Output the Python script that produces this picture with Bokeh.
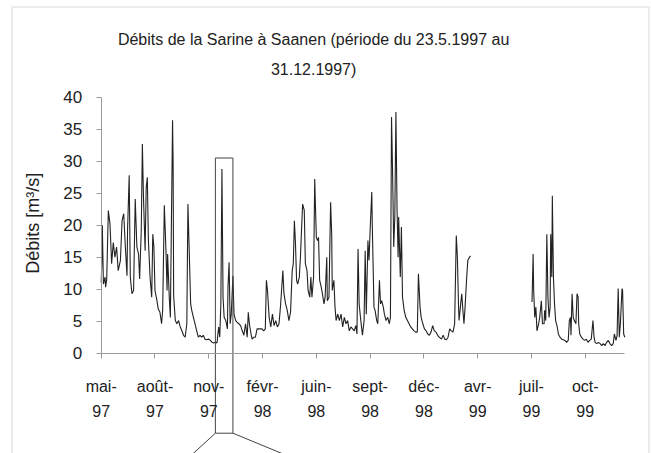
import math
from bokeh.plotting import figure
from bokeh.models import Range1d, LinearAxis, FixedTicker, ColumnDataSource, BoxAnnotation
from bokeh.core.properties import value
from bokeh.embed import file_html
from bokeh.resources import INLINE

# ---- data (day index since 23.5.1997, discharge m3/s) ----
days = [0, 1, 2, 4, 7, 8, 10, 13, 16, 19, 22, 25, 28, 31, 35, 38, 41, 44, 47, 48, 51, 53, 56, 59,
        62, 65, 68, 70, 73, 75, 77, 80, 82, 84, 86, 89, 92, 94, 96, 98, 101, 104, 107, 110, 112,
        115, 118, 120, 121, 124, 126, 130, 131, 132, 135, 138, 141, 144, 147, 150, 153, 156, 158,
        160, 163, 165, 168, 171, 174, 177, 180, 183, 186, 189, 192, 196, 199, 202, 205, 208, 211,
        214, 216, 218, 220, 222, 224, 227, 230, 231, 233, 235, 237, 240, 242, 245, 248, 251, 254,
        257, 260, 263, 266, 268, 270, 273, 275, 278, 281, 284, 287, 290, 293, 296, 299, 301, 303,
        306, 309, 312, 315, 318, 321, 324, 327, 329, 331, 333, 336, 339, 342, 345, 348, 350, 352,
        354, 356, 358, 361, 363, 365, 367, 370, 372, 375, 377, 380, 382, 384, 387, 389, 392, 394,
        396, 398, 401, 403, 406, 408, 411, 412, 415, 418, 420, 421, 424, 426, 428, 431, 434, 437,
        440, 443, 446, 449, 452, 455, 458, 461, 464, 466, 468, 470, 473, 476, 479, 481, 483, 486,
        488, 490, 493, 494, 497, 499, 502, 504, 507, 509, 511, 514, 516, 519, 522, 525, 527, 529,
        531, 533, 535, 537, 539, 541, 542, 545, 547, 549, 552, 555, 558, 561, 564, 567, 570, 573,
        576, 578, 581, 583, 586, 589, 592, 595, 598, 601, 604, 607, 610, 613, 616, 620, 623, 626,
        629, 632, 635, 638, 641, 644, 647, 649, 651, 652, 655, 657, 659, 661, 663, 666, 668, 671,
        673, 729, 785, 787, 788, 790, 792, 794, 797, 799, 802, 804, 807, 808, 810, 812, 814, 816,
        818, 819, 821, 822, 824, 826, 828, 831, 833, 836, 839, 842, 845, 848, 851, 853, 855, 856,
        858, 860, 862, 865, 867, 869, 870, 872, 875, 878, 881, 884, 887, 890, 893, 896, 898, 900,
        903, 906, 909, 912, 915, 918, 921, 924, 927, 930, 933, 935, 938, 940, 942, 944, 946, 949,
        950, 952, 954]
flow = [11.0, 14.0, 20.0, 10.8, 11.9, 10.3, 11.5, 22.3, 20.2, 14.0, 17.3, 15.0, 16.6, 12.9, 14.5,
        20.7, 21.8, 16.6, 12.1, 19.2, 27.8, 11.9, 9.3, 9.8, 24.1, 16.6, 15.5, 11.6, 19.2, 32.7,
        24.4, 16.0, 25.9, 27.5, 17.6, 11.9, 8.75, 18.6, 16.6, 9.8, 8.5, 6.9, 6.4, 4.6, 6.7, 23.1,
        16.0, 9.8, 15.5, 8.75, 5.6, 36.4, 30.0, 9.0, 5.1, 4.6, 5.1, 4.1, 3.5, 2.8, 2.5, 4.6, 23.3,
        17.1, 7.7, 6.7, 5.6, 4.6, 3.5, 2.5, 2.8, 2.5, 2.8, 2.2, 2.1, 2.2, 2.0, 1.7, 1.6, 1.7, 1.6,
        4.1, 2.5, 7.7, 28.8, 8.75, 5.6, 5.1, 3.8, 10.3, 14.2, 4.6, 6.1, 12.1, 6.1, 5.1, 4.8, 4.6,
        4.3, 3.5, 2.8, 4.6, 2.5, 6.4, 4.6, 3.0, 2.2, 2.5, 2.5, 3.8, 3.8, 3.8, 3.8, 3.5, 3.8, 11.4,
        9.8, 5.6, 4.1, 6.1, 4.3, 5.1, 4.1, 4.6, 7.7, 10.3, 12.9, 9.3, 7.7, 6.7, 5.1, 6.4, 12.9,
        14.0, 20.7, 17.1, 11.4, 10.8, 11.9, 15.0, 19.2, 23.3, 22.3, 14.0, 12.9, 9.8, 8.75, 11.9,
        8.75, 11.9, 27.2, 18.1, 17.6, 18.1, 11.4, 10.3, 9.3, 7.7, 8.75, 15.0, 8.2, 8.75, 23.6,
        18.6, 9.8, 11.4, 7.2, 5.1, 6.1, 5.1, 6.1, 4.1, 5.6, 4.6, 5.1, 3.5, 4.1, 3.8, 3.5, 4.3, 3.0,
        16.3, 7.7, 5.1, 2.8, 5.1, 16.0, 6.1, 17.6, 14.5, 19.2, 25.2, 19.7, 7.2, 6.7, 5.1, 4.6, 11.4,
        7.7, 8.2, 7.2, 6.1, 5.1, 5.6, 4.6, 5.6, 36.9, 28.0, 16.6, 21.3, 37.7, 22.8, 15.0, 21.3,
        11.9, 19.7, 8.75, 6.7, 5.6, 5.1, 4.6, 4.1, 3.8, 3.5, 3.3, 3.3, 12.4, 7.2, 5.6, 4.6, 3.8,
        3.5, 3.0, 2.8, 3.3, 4.3, 3.5, 3.3, 2.8, 2.5, 2.2, 2.8, 2.2, 2.1, 2.5, 3.8, 3.5, 3.3, 4.6,
        18.4, 15.0, 7.7, 5.1, 7.7, 9.3, 6.7, 4.6, 7.2, 11.9, 14.5, 15.0, 15.2, float("nan"), 8.0,
        15.5, 9.8, 5.6, 7.2, 3.5, 4.6, 5.6, 8.2, 4.6, 4.6, 6.7, 5.1, 18.6, 8.75, 5.6, 7.2, 18.6,
        11.9, 24.6, 11.9, 7.7, 5.1, 4.1, 3.0, 2.5, 2.2, 2.1, 2.0, 1.7, 2.0, 5.1, 5.6, 2.8, 9.3, 5.6,
        5.1, 4.6, 9.3, 8.75, 4.6, 3.0, 2.5, 2.2, 2.0, 2.2, 1.7, 2.0, 2.2, 5.1, 2.5, 1.7, 1.5, 1.7,
        1.5, 1.2, 1.5, 1.2, 1.7, 2.0, 1.5, 1.2, 1.5, 3.0, 2.0, 2.8, 10.1, 2.5, 4.6, 10.1, 9.8, 3.0,
        2.5]

tick_days = [0, 98, 196, 294, 392, 490, 588, 686, 784, 882]
tick_labels = ["mai-\n97", "août-\n97", "nov-\n97", "févr-\n98", "juin-\n98",
               "sept-\n98", "déc-\n98", "avr-\n99", "juil-\n99", "oct-\n99"]
y_ticks = [0, 5, 10, 15, 20, 25, 30, 35, 40]
title_lines = ["Débits de la Sarine à Saanen (période du 23.5.1997 au", "31.12.1997)"]
y_label = "Débits [m³/s]"

# zoom window drawn on the chart (days / m3/s)
zoom_x0, zoom_x1, zoom_top = 208, 240, 30.5

FONT = "Liberation Sans"
TXT = "#222222"

W, H = 651, 453
p = figure(width=W, height=H, output_backend="svg", toolbar_location=None,
           x_axis_type=None, y_axis_type=None, title=None,
           x_range=Range1d(-183.5, 1002.7), y_range=Range1d(-15.67, 55.11),
           min_border_left=0, min_border_right=0, min_border_top=0, min_border_bottom=0)
p.background_fill_color = "white"
p.border_fill_color = "white"
p.outline_line_color = None

# chart-area border (open at the bottom, where the picture is cut)
p.add_layout(BoxAnnotation(left=-162.5, right=998.2, top=54.1, bottom=-25,
                           fill_color=None, line_color="#bdbdbd", line_width=2))

src = ColumnDataSource(dict(day=days, flow=flow))
p.line("day", "flow", source=src, line_color="#222222", line_width=1.1)

# axes placed at fixed positions inside the frame
yax = LinearAxis(fixed_location=0, bounds=(0, 40), ticker=FixedTicker(ticks=y_ticks))
yax.axis_line_color = "#9a9a9a"
yax.major_tick_line_color = "#9a9a9a"
yax.major_tick_out = 5
yax.major_tick_in = 0
yax.minor_tick_line_color = None
yax.major_label_standoff = 14
yax.major_label_text_font = FONT
yax.major_label_text_font_size = "17px"
yax.major_label_text_color = TXT
p.add_layout(yax, "left")

xax = LinearAxis(fixed_location=0, bounds=(days[0], days[-1]), ticker=FixedTicker(ticks=tick_days))
xax.major_label_overrides = {d: l for d, l in zip(tick_days, tick_labels)}
xax.axis_line_color = "#9a9a9a"
xax.major_tick_line_color = "#9a9a9a"
xax.major_tick_out = 5
xax.major_tick_in = 0
xax.minor_tick_line_color = None
xax.major_label_standoff = 20
xax.major_label_text_font = FONT
xax.major_label_text_font_size = "16px"
xax.major_label_text_color = TXT
xax.major_label_text_line_height = 1.45
p.add_layout(xax, "below")

# zoom rectangle and connector lines
y_lo = -12.5
p.line([zoom_x0, zoom_x0, zoom_x1, zoom_x1, zoom_x0], [y_lo, zoom_top, zoom_top, y_lo, y_lo],
       line_color="#444444", line_width=1)
p.line([zoom_x0, zoom_x0 - 51], [y_lo, -16.5], line_color="#444444", line_width=1)
p.line([zoom_x1, zoom_x1 + 113], [y_lo, -16.5], line_color="#444444", line_width=1)

# title and axis label
p.text(x=[387, 387], y=[49.0, 44.3], text=title_lines, text_font=value(FONT),
       text_font_size="16px", text_align="center", text_baseline="middle", text_color=TXT)
p.text(x=[-125], y=[20.3], text=[y_label], angle=math.pi / 2, text_font=value(FONT),
       text_font_size="18px", text_align="center", text_baseline="middle", text_color=TXT)

open("out.html", "w").write(file_html(p, INLINE))
